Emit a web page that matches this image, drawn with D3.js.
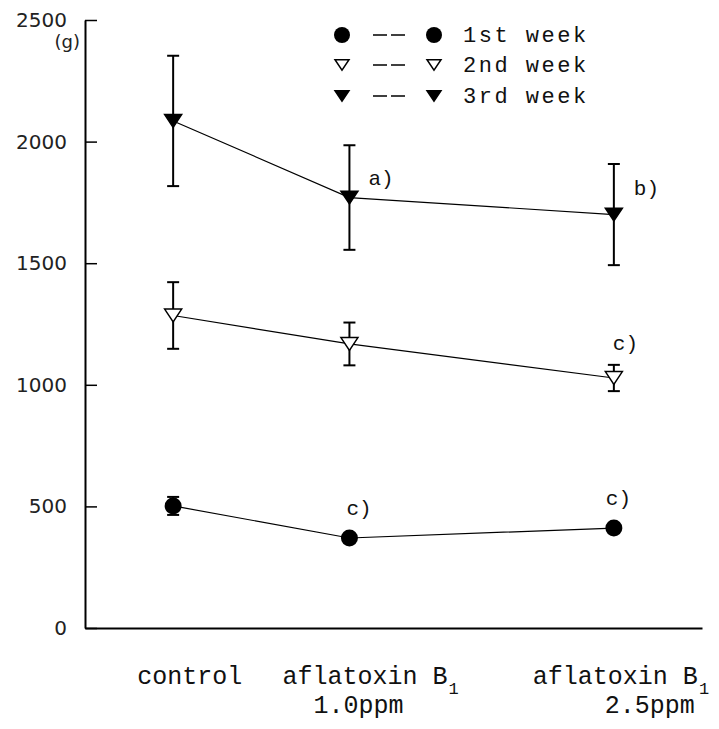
<!DOCTYPE html>
<html>
<head>
<meta charset="utf-8">
<script src="https://cdn.jsdelivr.net/npm/d3@7"></script>
<style>
    body { margin: 0; background: #fff; }
    .tick-label { font-family: "DejaVu Sans", sans-serif; font-size: 20px; fill: #222; }
    .mono { font-family: "Liberation Mono", monospace; fill: #111; }
</style>
</head>
<body>
<div id="chart"></div>
<script>
// doses on the x axis (ppm of aflatoxin B1, control = 0)
const doses = [0, 1.0, 2.5];
const weeks = ["1st week", "2nd week", "3rd week"];

// mean body weight (g) and standard deviation per week
const week1Mean = [502, 370, 411];
const week1Sd = [37, 15, 15];
const week2Mean = [1285, 1168, 1028];
const week2Sd = [137, 88, 54];
const week3Mean = [2085, 1770, 1700];
const week3Sd = [268, 215, 208];

const yTicks = [0, 500, 1000, 1500, 2000, 2500];
const catLine1 = ["control", "aflatoxin B", "aflatoxin B"];
const catSub = ["", "1", "1"];
const catLine2 = ["", "1.0ppm", "2.5ppm"];

// significance marks: [week index, dose index, text]
const notes = [
    [2, 1, "a)"],
    [2, 2, "b)"],
    [1, 2, "c)"],
    [0, 1, "c)"],
    [0, 2, "c)"]
];

const means = [week1Mean, week2Mean, week3Mean];
const sds = [week1Sd, week2Sd, week3Sd];
const markers = ["circle", "open", "filled"];

const width = 719;
const height = 729;

const x = d3.scaleLinear().domain([-0.5, 3.0]).range([85, 702]);
const y = d3.scaleLinear().domain([0, 2500]).range([628, 20]);

const svg = d3.select("#chart")
    .append("svg")
    .attr("width", width)
    .attr("height", height);

// axes
const yAxis = svg.append("g")
    .attr("transform", `translate(${x(-0.5)},0)`)
    .call(d3.axisLeft(y)
        .tickValues(yTicks)
        .tickFormat(d3.format("d"))
        .tickSizeInner(-12)
        .tickSizeOuter(0)
        .tickPadding(18));
yAxis.attr("font-size", null).attr("font-family", null);
yAxis.select(".domain").attr("stroke", "#000").attr("stroke-width", 2);
yAxis.selectAll(".tick line").attr("stroke", "#000").attr("stroke-width", 1.5);
yAxis.selectAll(".tick text").attr("class", "tick-label").attr("fill", null);

const xAxis = svg.append("g")
    .attr("transform", `translate(0,${y(0)})`)
    .call(d3.axisBottom(x).tickValues([]).tickSizeOuter(0));
xAxis.select(".domain").attr("stroke", "#000").attr("stroke-width", 2);

svg.append("text")
    .attr("class", "tick-label")
    .attr("x", x(-0.5) - 5)
    .attr("y", 48)
    .attr("text-anchor", "end")
    .style("font-size", "18px")
    .text("(g)");

// category labels
const labelDx = [-36, -67, -81];
const label2Dx = [0, -36, -9];

const cat = svg.append("g").attr("class", "mono");
doses.forEach((d, i) => {
    const t = cat.append("text")
        .attr("x", x(d) + labelDx[i])
        .attr("y", 684)
        .attr("font-size", 25)
        .text(catLine1[i]);
    if (catSub[i]) {
        t.append("tspan")
            .attr("dx", 1)
            .attr("dy", 10)
            .attr("font-size", 17)
            .text(catSub[i]);
    }
    if (catLine2[i]) {
        cat.append("text")
            .attr("x", x(d) + label2Dx[i])
            .attr("y", 713)
            .attr("font-size", 25)
            .text(catLine2[i]);
    }
});

function triDown(w, h) {
    return `M${-w / 2},${-h / 2}L${w / 2},${-h / 2}L0,${h / 2}Z`;
}

function drawMarker(g, type, size) {
    if (type === "circle") {
        g.append("circle").attr("r", size).attr("fill", "#000");
    } else {
        g.append("path")
            .attr("d", triDown(size * 2, size * 1.5))
            .attr("fill", type === "filled" ? "#000" : "#fff")
            .attr("stroke", "#000")
            .attr("stroke-width", 1.5);
    }
}

const line = d3.line()
    .x((d, i) => x(doses[i]))
    .y(d => y(d));

means.forEach((m, w) => {
    const g = svg.append("g");

    g.append("path")
        .datum(m)
        .attr("d", line)
        .attr("fill", "none")
        .attr("stroke", "#000")
        .attr("stroke-width", 1.2);

    const bars = g.selectAll(".err")
        .data(m)
        .enter().append("g")
        .attr("transform", (d, i) => `translate(${x(doses[i])},0)`);

    bars.append("line")
        .attr("y1", (d, i) => y(d + sds[w][i]))
        .attr("y2", (d, i) => y(d - sds[w][i]))
        .attr("stroke", "#000")
        .attr("stroke-width", 2);

    [1, -1].forEach(s => {
        bars.append("line")
            .attr("x1", -6)
            .attr("x2", 6)
            .attr("y1", (d, i) => y(d + s * sds[w][i]))
            .attr("y2", (d, i) => y(d + s * sds[w][i]))
            .attr("stroke", "#000")
            .attr("stroke-width", 2);
    });

    m.forEach((v, i) => {
        const mk = g.append("g").attr("transform", `translate(${x(doses[i])},${y(v)})`);
        drawMarker(mk, markers[w], 8.5);
    });
});

// significance marks
const noteDx = { "0,1": -3, "0,2": -8, "1,2": -1, "2,1": 19, "2,2": 20 };
const noteDy = { "0,1": -23, "0,2": -23, "1,2": -28, "2,1": -13, "2,2": -20 };
notes.forEach(([w, i, txt]) => {
    const key = w + "," + i;
    svg.append("text")
        .attr("class", "mono")
        .attr("x", x(doses[i]) + noteDx[key])
        .attr("y", y(means[w][i]) + noteDy[key])
        .attr("font-size", 21)
        .text(txt);
});

// legend
const legendY = [35, 65, 96];
const legend = svg.append("g");
weeks.forEach((name, w) => {
    const row = legend.append("g").attr("transform", `translate(0,${legendY[w]})`);
    drawMarker(row.append("g").attr("transform", "translate(342,0)"), markers[w], w === 0 ? 8 : 7);
    row.append("line")
        .attr("x1", 373)
        .attr("x2", 405)
        .attr("stroke", "#000")
        .attr("stroke-width", 1.5)
        .attr("stroke-dasharray", "14,4");
    drawMarker(row.append("g").attr("transform", "translate(434,0)"), markers[w], w === 0 ? 8 : 7);
    row.append("text")
        .attr("class", "mono")
        .attr("x", 463)
        .attr("y", 7)
        .attr("font-size", 22)
        .attr("letter-spacing", 2.5)
        .text(name);
});
</script>
</body>
</html>
